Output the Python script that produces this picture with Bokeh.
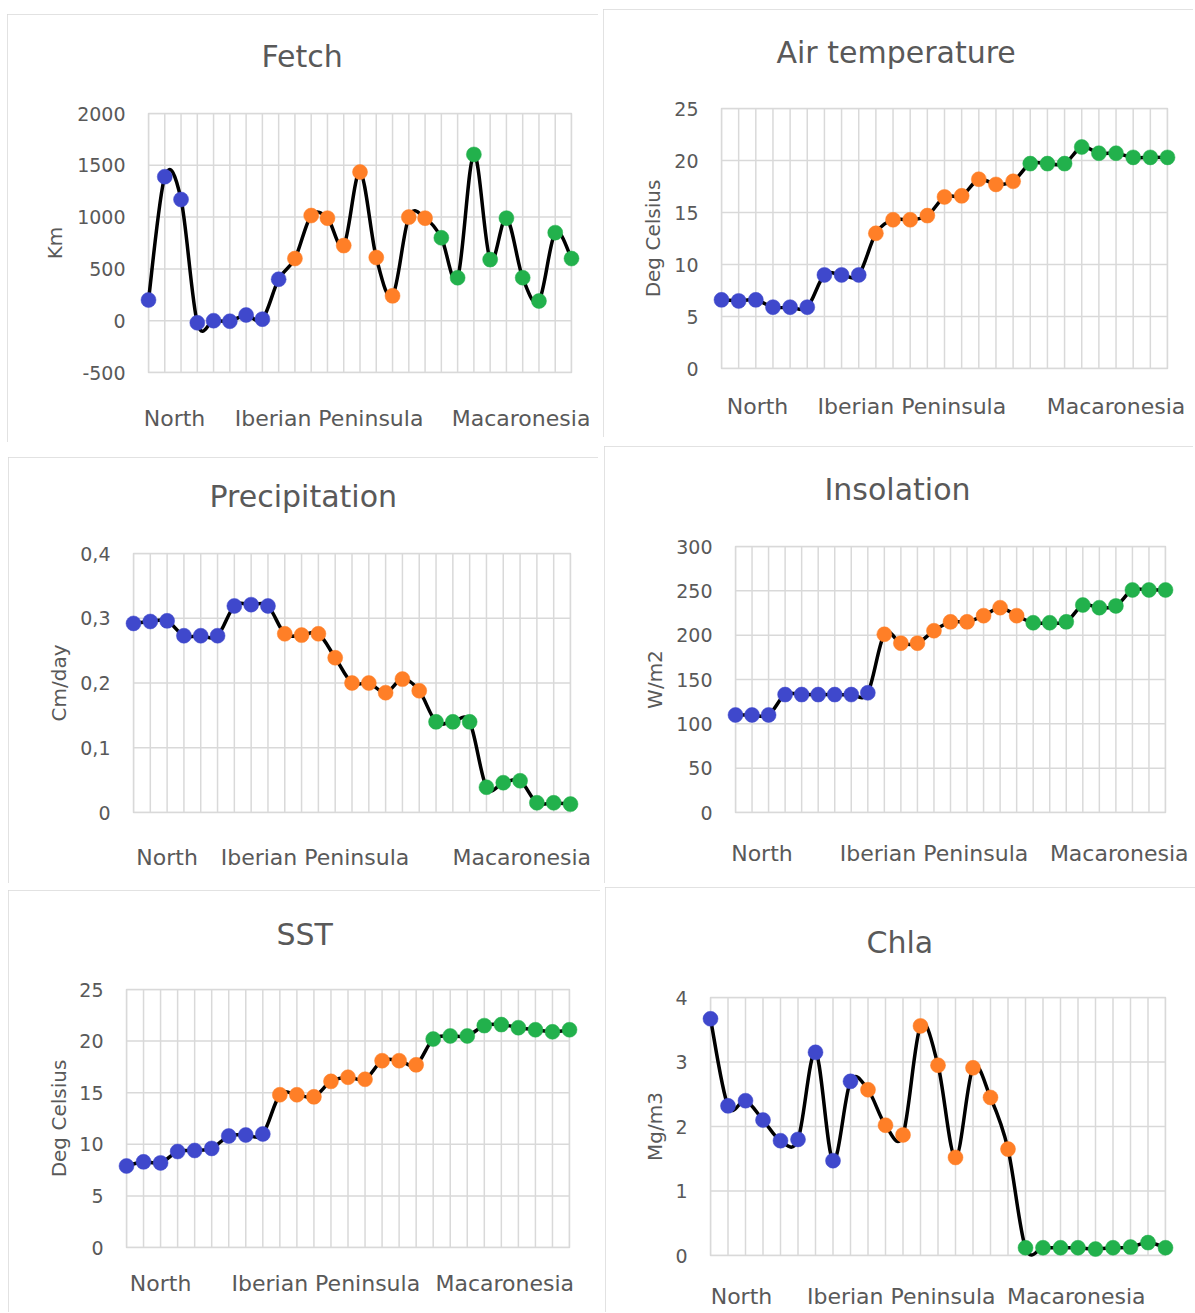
from bokeh.plotting import figure
from bokeh.models import (Range1d, FixedTicker, Spacer, CustomJSTickFormatter, Title)
from bokeh.layouts import row, column
from bokeh.embed import file_html
from bokeh.resources import INLINE

# ---------------- data ----------------
sites = list(range(27))
site_region = ["North"] * 9 + ["Iberian Peninsula"] * 9 + ["Macaronesia"] * 9
region_labels = ["North", "Iberian Peninsula", "Macaronesia"]
region_colors = {"North": "#3F48CC", "Iberian Peninsula": "#FF7F27", "Macaronesia": "#22B14C"}

fetch = [200, 1390, 1170, -20, 0, -5, 55, 15, 400,
         600, 1015, 990, 725, 1435, 610, 240, 1000, 990,
         800, 415, 1605, 590, 990, 415, 190, 850, 600]
air_temp = [6.6, 6.5, 6.6, 5.9, 5.9, 5.9, 9.0, 9.0, 9.0,
            13.0, 14.3, 14.3, 14.7, 16.5, 16.6, 18.2, 17.7, 18.0,
            19.7, 19.7, 19.7, 21.3, 20.7, 20.7, 20.3, 20.3, 20.3]
precipitation = [0.292, 0.295, 0.296, 0.273, 0.273, 0.273, 0.319, 0.321, 0.319,
                 0.276, 0.274, 0.276, 0.239, 0.200, 0.200, 0.185, 0.206, 0.188,
                 0.140, 0.140, 0.140, 0.039, 0.046, 0.049, 0.015, 0.015, 0.013]
insolation = [110, 110, 110, 133, 133, 133, 133, 133, 135,
              201, 191, 191, 205, 215, 215, 222, 231, 222,
              214, 214, 215, 234, 231, 233, 251, 251, 251]
sst = [7.9, 8.3, 8.2, 9.3, 9.4, 9.6, 10.8, 10.9, 11.0,
       14.8, 14.8, 14.6, 16.1, 16.5, 16.3, 18.1, 18.1, 17.7,
       20.2, 20.5, 20.5, 21.5, 21.6, 21.3, 21.1, 20.9, 21.1]
chla = [3.67, 2.32, 2.40, 2.10, 1.78, 1.80, 3.15, 1.47, 2.70,
        2.57, 2.02, 1.87, 3.56, 2.95, 1.52, 2.91, 2.45, 1.65,
        0.12, 0.12, 0.12, 0.12, 0.10, 0.12, 0.13, 0.20, 0.12]

fetch_ticks = [-500, 0, 500, 1000, 1500, 2000]
air_ticks = [0, 5, 10, 15, 20, 25]
precip_ticks = [0, 0.1, 0.2, 0.3, 0.4]
insol_ticks = [0, 50, 100, 150, 200, 250, 300]
sst_ticks = [0, 5, 10, 15, 20, 25]
chla_ticks = [0, 1, 2, 3, 4]

# ---------------- layout (absolute page pixels) ----------------
# box: (x, y, w, h); frame: (L, R, T, B); title: (left x, centre y);
# ylab_x: centre x of axis title; xlab_y: centre y of region labels; xlab_pos: data positions
layouts = {
    "fetch": dict(box=(7, 14, 591, 428), frame=(148, 571, 113, 372), title=(261, 57),
                  ylab_x=55, xlab_y=418, xlab_pos=[1.6, 11.1, 22.9]),
    "air": dict(box=(603, 9, 590, 428), frame=(721, 1167, 108, 368), title=(776, 53),
                ylab_x=653, xlab_y=406, xlab_pos=[2.1, 11.1, 23.0]),
    "precip": dict(box=(8, 457, 590, 426), frame=(133, 570, 553, 812), title=(209, 497),
                   ylab_x=59, xlab_y=857, xlab_pos=[2.0, 10.8, 23.1]),
    "insol": dict(box=(604, 446, 589, 437), frame=(735, 1165, 546, 812), title=(824, 490),
                  ylab_x=655, xlab_y=853, xlab_pos=[1.6, 12.0, 23.2]),
    "sst": dict(box=(8, 890, 592, 422), frame=(126, 569, 989, 1247), title=(276, 935),
                ylab_x=59, xlab_y=1283, xlab_pos=[2.0, 11.7, 22.2]),
    "chla": dict(box=(605, 887, 590, 425), frame=(710, 1165, 997, 1255), title=(866, 943),
                 ylab_x=655, xlab_y=1296, xlab_pos=[1.77, 10.9, 20.9]),
}

FONT = "DejaVu Sans"
TXT = "#595959"
GRID = "#D9D9D9"
TICK_PX = 19
YLAB_PX = 20
XLAB_PX = 22
TITLE_PX = 30
TICK_GAP = 23


def smooth_segments(xs, ys):
    n = len(xs)
    seg = dict(x0=[], y0=[], x1=[], y1=[], cx0=[], cy0=[], cx1=[], cy1=[])
    for i in range(n - 1):
        im1 = max(i - 1, 0)
        ip2 = min(i + 2, n - 1)
        seg["x0"].append(xs[i]); seg["y0"].append(ys[i])
        seg["x1"].append(xs[i + 1]); seg["y1"].append(ys[i + 1])
        seg["cx0"].append(xs[i] + (xs[i + 1] - xs[im1]) / 6.0)
        seg["cy0"].append(ys[i] + (ys[i + 1] - ys[im1]) / 6.0)
        seg["cx1"].append(xs[i + 1] - (xs[ip2] - xs[i]) / 6.0)
        seg["cy1"].append(ys[i + 1] - (ys[ip2] - ys[i]) / 6.0)
    return seg


YFMT = "var s = (Math.round(tick * 10) / 10).toString(); return s.replace('.', ',');"


def tick_text(t):
    s = str(round(t * 10) / 10)
    if s.endswith(".0"):
        s = s[:-2]
    return s.replace(".", ",")


def text_w(s, px):
    return sum(0.318 if ch in ",." else 0.636 for ch in s) * px


def make_panel(key, title, ylabel, values, ticks):
    L = layouts[key]
    bx, by, bw, bh = L["box"]
    fl, fr, ft, fb = L["frame"]
    p = figure(width=bw, height=bh, output_backend="svg", toolbar_location=None,
               x_range=Range1d(0, len(sites) - 1), y_range=Range1d(ticks[0], ticks[-1]),
               min_border_left=fl - bx, min_border_right=(bx + bw) - fr,
               min_border_top=ft - by, min_border_bottom=(by + bh) - fb,
               background_fill_color="white", border_fill_color="white",
               styles={"outline": "1px solid #D9D9D9", "outline-offset": "-1px"})
    p.grid.visible = False
    p.outline_line_color = GRID
    p.outline_line_width = 1.5

    # title (second, empty line keeps the title clear of the plot area)
    tx, tcy = L["title"]
    p.title = Title(text=title + "\n", align="left", offset=tx - fl,
                    standoff=max(0, int(round(2 * (ft - (tcy + 1.72 * TITLE_PX))))),
                    text_font=FONT, text_font_size=f"{TITLE_PX}px",
                    text_font_style="normal", text_color=TXT)

    # gridlines
    p.segment(x0=sites, y0=[ticks[0]] * len(sites), x1=sites, y1=[ticks[-1]] * len(sites),
              line_color=GRID, line_width=1.5, level="underlay")
    p.segment(x0=[0] * len(ticks), y0=ticks, x1=[len(sites) - 1] * len(ticks), y1=ticks,
              line_color=GRID, line_width=1.5, level="underlay")

    # y axis
    yax = p.yaxis[0]
    yax.ticker = FixedTicker(ticks=ticks)
    yax.formatter = CustomJSTickFormatter(code=YFMT)
    yax.axis_line_color = None
    yax.major_tick_line_color = None
    yax.minor_tick_line_color = None
    yax.major_tick_out = 0
    yax.major_tick_in = 0
    yax.minor_tick_out = 0
    yax.major_label_text_color = TXT
    yax.major_label_text_font = FONT
    yax.major_label_text_font_size = f"{TICK_PX}px"
    yax.major_label_standoff = TICK_GAP
    max_w = max(text_w(tick_text(t), TICK_PX) for t in ticks)
    yax.axis_label = ylabel
    yax.axis_label_text_font = FONT
    yax.axis_label_text_font_size = f"{YLAB_PX}px"
    yax.axis_label_text_font_style = "normal"
    yax.axis_label_text_color = TXT
    yax.axis_label_standoff = max(0, int(round(fl - TICK_GAP - max_w - L["ylab_x"] - 0.73 * YLAB_PX)))

    # x axis with region labels
    xax = p.xaxis[0]
    xax.ticker = FixedTicker(ticks=L["xlab_pos"])
    xax.formatter = CustomJSTickFormatter(args=dict(labels=region_labels),
                                          code="return labels[index];")
    xax.axis_line_color = None
    xax.major_tick_line_color = None
    xax.minor_tick_line_color = None
    xax.major_tick_out = 0
    xax.major_tick_in = 0
    xax.minor_tick_out = 0
    xax.major_label_text_color = TXT
    xax.major_label_text_font = FONT
    xax.major_label_text_font_size = f"{XLAB_PX}px"
    xax.major_label_standoff = int(round(L["xlab_y"] - 0.6 * XLAB_PX - fb))

    seg = smooth_segments(sites, values)
    r = p.bezier(x0=seg["x0"], y0=seg["y0"], x1=seg["x1"], y1=seg["y1"],
                 cx0=seg["cx0"], cy0=seg["cy0"], cx1=seg["cx1"], cy1=seg["cy1"],
                 line_color="black", line_width=3.5)
    r.level = "overlay"
    cols = [region_colors[g] for g in site_region]
    s = p.scatter(x=sites, y=values, size=15, fill_color=cols, line_color=cols, line_width=0.5)
    s.level = "overlay"
    return p


p1 = make_panel("fetch", "Fetch", "Km", fetch, fetch_ticks)
p2 = make_panel("air", "Air temperature", "Deg Celsius", air_temp, air_ticks)
p3 = make_panel("precip", "Precipitation", "Cm/day", precipitation, precip_ticks)
p4 = make_panel("insol", "Insolation", "W/m2", insolation, insol_ticks)
p5 = make_panel("sst", "SST", "Deg Celsius", sst, sst_ticks)
p6 = make_panel("chla", "Chla", "Mg/m3", chla, chla_ticks)


def cell(p, key, row_top):
    top = layouts[key]["box"][1] - row_top
    return column(Spacer(width=p.width, height=top), p, spacing=0)


def make_row(left_key, pl, right_key, pr, row_top):
    lx = layouts[left_key]["box"][0]
    gap = layouts[right_key]["box"][0] - (lx + layouts[left_key]["box"][2])
    return row(Spacer(width=lx, height=1), cell(pl, left_key, row_top),
               Spacer(width=gap, height=1), cell(pr, right_key, row_top), spacing=0)


row_a = make_row("fetch", p1, "air", p2, 0)
row_b = make_row("precip", p3, "insol", p4, 442)
row_c = make_row("sst", p5, "chla", p6, 883)
page = column(row_a, row_b, row_c, spacing=0)

with open("out.html", "w") as f:
    f.write(file_html(page, INLINE, title="Environmental variables"))
